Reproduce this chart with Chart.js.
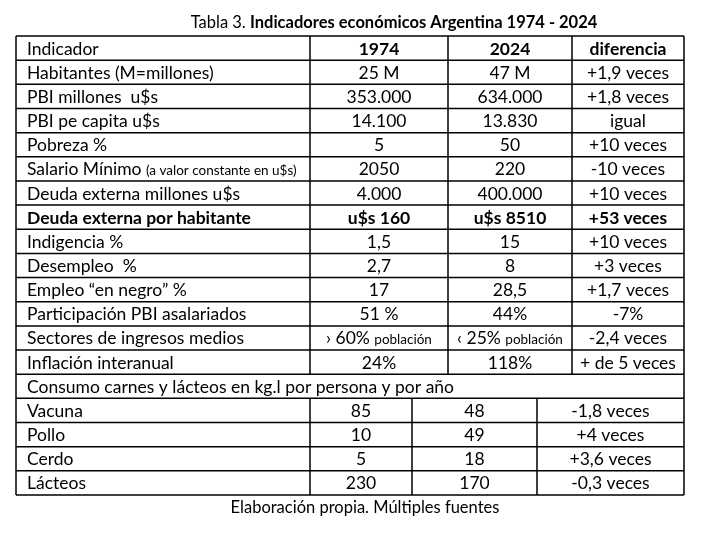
<!DOCTYPE html>
<html>
<head>
<meta charset="utf-8">
<script src="https://cdn.jsdelivr.net/npm/chart.js@4.4.1/dist/chart.umd.min.js"></script>
<style>
html,body{margin:0;padding:0;background:#fff;}
#wrap{width:706px;height:534px;position:relative;}
</style>
</head>
<body>
<div id="wrap"><canvas id="c"></canvas></div>
<script>
// ---- DATA ----
const titlePrefix = "Tabla 3. ";
const titleMain = "Indicadores económicos Argentina 1974 - 2024";
const footerText = "Elaboración propia. Múltiples fuentes";
const headers = ["Indicador", "1974", "2024", "diferencia"];
const indicators = [
  "Habitantes (M=millones)",
  "PBI millones  u$s",
  "PBI pe capita u$s",
  "Pobreza %",
  "Salario Mínimo |(a valor constante en u$s)",
  "Deuda externa millones u$s",
  "Deuda externa por habitante",
  "Indigencia %",
  "Desempleo  %",
  "Empleo “en negro” %",
  "Participación PBI asalariados",
  "Sectores de ingresos medios",
  "Inflación interanual"
];
const values1974 = ["25 M", "353.000", "14.100", "5", "2050", "4.000", "u$s 160", "1,5", "2,7", "17", "51 %", "› 60% |población", "24%"];
const values2024 = ["47 M", "634.000", "13.830", "50", "220", "400.000", "u$s 8510", "15", "8", "28,5", "44%", "‹ 25% |población", "118%"];
const diferencia = ["+1,9 veces", "+1,8 veces", "igual", "+10 veces", "-10 veces", "+10 veces", "+53 veces", "+10 veces", "+3 veces", "+1,7 veces", "-7%", "-2,4 veces", "+ de 5 veces"];
const boldRows = [6];
const consumoTitle = "Consumo carnes y lácteos en kg.l por persona y por año";
const consumoItems = ["Vacuna", "Pollo", "Cerdo", "Lácteos"];
const consumo1974 = ["85", "10", "5", "230"];
const consumo2024 = ["48", "49", "18", "170"];
const consumoDif = ["-1,8 veces", "+4 veces", "+3,6 veces", "-0,3 veces"];

// ---- LAYOUT (scale units) ----
const TABLE_W = 668;
const topEdges = [0, 294, 432, 556, 668];
const botEdges = [0, 294, 396, 521, 668];
const ROWS = 1 + indicators.length + 1 + consumoItems.length;

const FONT = "Lato, 'Open Sans', sans-serif";
const BODY = 17.5, SMALL = 13.5, TITLE = 16.5;

function drawCell(ctx, text, x, y, align, bold) {
  const parts = text.split("|");
  const w = bold ? "bold " : "";
  const fonts = [w + BODY + "px " + FONT, w + SMALL + "px " + FONT];
  let widths = parts.map((p, i) => { ctx.font = fonts[i]; return ctx.measureText(p).width; });
  const total = widths.reduce((a, b) => a + b, 0);
  let sx = align === "center" ? x - total / 2 : x;
  ctx.textAlign = "left";
  ctx.textBaseline = "alphabetic";
  parts.forEach((p, i) => {
    ctx.font = fonts[i];
    ctx.fillText(p, sx, y);
    sx += widths[i];
  });
}

const tablePlugin = {
  id: "tablePlugin",
  beforeDraw(chart) {
    const ctx = chart.ctx;
    ctx.save();
    ctx.fillStyle = "#fff";
    ctx.fillRect(0, 0, chart.width, chart.height);
    ctx.restore();
  },
  afterDraw(chart) {
    const ctx = chart.ctx;
    const xs = chart.scales.x, ys = chart.scales.y;
    const X = v => xs.getPixelForValue(v);
    const Y = v => ys.getPixelForValue(v);
    const nTop = 1 + indicators.length;
    ctx.save();
    ctx.strokeStyle = "#000";
    ctx.lineWidth = 1.5;
    ctx.beginPath();
    for (let i = 0; i <= ROWS; i++) { ctx.moveTo(X(0), Y(i)); ctx.lineTo(X(TABLE_W), Y(i)); }
    ctx.moveTo(X(0), Y(0)); ctx.lineTo(X(0), Y(ROWS));
    ctx.moveTo(X(TABLE_W), Y(0)); ctx.lineTo(X(TABLE_W), Y(ROWS));
    for (let k = 1; k < topEdges.length - 1; k++) { ctx.moveTo(X(topEdges[k]), Y(0)); ctx.lineTo(X(topEdges[k]), Y(nTop)); }
    for (let k = 1; k < botEdges.length - 1; k++) { ctx.moveTo(X(botEdges[k]), Y(nTop + 1)); ctx.lineTo(X(botEdges[k]), Y(ROWS)); }
    ctx.stroke();

    ctx.fillStyle = "#000";
    const base = r => Y(r + 0.5) + 6.5;
    const padL = 11;
    const cx = (edges, k) => X((edges[k] + edges[k + 1]) / 2);
    // header
    drawCell(ctx, headers[0], X(0) + padL, base(0), "left", false);
    for (let k = 1; k < 4; k++) drawCell(ctx, headers[k], cx(topEdges, k), base(0), "center", true);
    // indicators
    indicators.forEach((name, i) => {
      const r = i + 1, b = boldRows.includes(i);
      drawCell(ctx, name, X(0) + padL, base(r), "left", b);
      drawCell(ctx, values1974[i], cx(topEdges, 1), base(r), "center", b);
      drawCell(ctx, values2024[i], cx(topEdges, 2), base(r), "center", b);
      drawCell(ctx, diferencia[i], cx(topEdges, 3), base(r), "center", b);
    });
    // consumo
    drawCell(ctx, consumoTitle, X(0) + padL, base(nTop), "left", false);
    consumoItems.forEach((name, i) => {
      const r = nTop + 1 + i;
      drawCell(ctx, name, X(0) + padL, base(r), "left", false);
      drawCell(ctx, consumo1974[i], cx(botEdges, 1), base(r), "center", false);
      drawCell(ctx, consumo2024[i], cx(botEdges, 2), base(r), "center", false);
      drawCell(ctx, consumoDif[i], cx(botEdges, 3), base(r), "center", false);
    });

    // title
    const area = chart.chartArea;
    ctx.textBaseline = "alphabetic";
    ctx.font = TITLE + "px " + FONT;
    const w1 = ctx.measureText(titlePrefix).width;
    ctx.font = "bold " + TITLE + "px " + FONT;
    const w2 = ctx.measureText(titleMain).width;
    let tx = 394 - (w1 + w2) / 2;
    ctx.textAlign = "left";
    ctx.font = TITLE + "px " + FONT;
    ctx.fillText(titlePrefix, tx, area.top - 8);
    ctx.font = "bold " + TITLE + "px " + FONT;
    ctx.fillText(titleMain, tx + w1, area.top - 8);
    // footer
    ctx.font = TITLE + "px " + FONT;
    ctx.textAlign = "center";
    ctx.fillText(footerText, 365, area.bottom + 18);
    ctx.restore();
  }
};

new Chart(document.getElementById("c"), {
  type: "scatter",
  data: { datasets: [{ data: [] }] },
  options: {
    responsive: true,
    maintainAspectRatio: false,
    animation: false,
    layout: { padding: { left: 16, right: 22, top: 36, bottom: 39 } },
    scales: {
      x: { type: "linear", min: 0, max: TABLE_W, display: false },
      y: { type: "linear", min: 0, max: ROWS, reverse: true, display: false }
    },
    plugins: { legend: { display: false }, tooltip: { enabled: false }, title: { display: false } }
  },
  plugins: [tablePlugin]
});
</script>
</body>
</html>
